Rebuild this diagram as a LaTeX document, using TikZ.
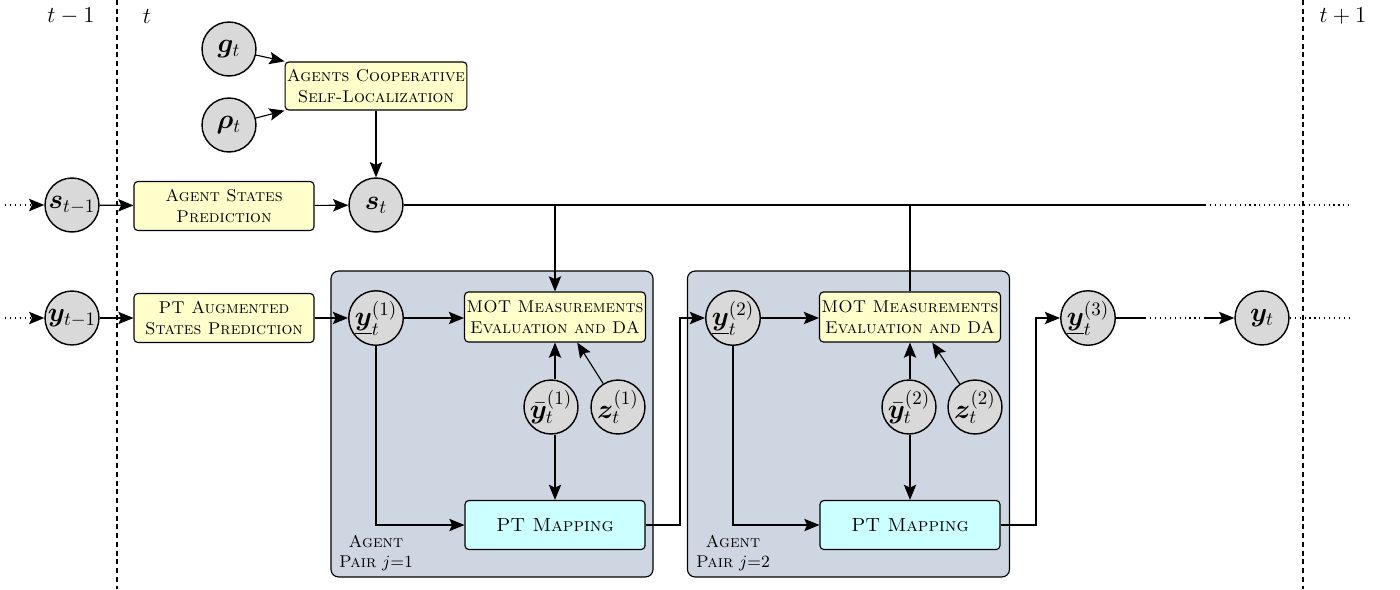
\documentclass[tikz,border=0pt]{standalone}
\usepackage{fontspec}
\usepackage{bm}
\usetikzlibrary{arrows.meta}
\definecolor{boxyellow}{HTML}{FFFFCC}
\definecolor{boxcyan}{HTML}{CCFFFF}
\definecolor{bgblue}{HTML}{CDD6E1}
\definecolor{circgray}{HTML}{D9D9D9}
\begin{document}
\begin{tikzpicture}[x=0.5263pt,y=-0.5263pt,
  var/.style={circle, draw, fill=circgray, line width=0.75pt, minimum size=28.4pt, inner sep=0pt, font=\Large},
  proc/.style={draw, rounded corners=2pt, fill=boxyellow, minimum width=94.7pt, minimum height=25.8pt, align=center, font=\small, inner sep=1pt, line width=0.6pt},
  mapbox/.style={proc, fill=boxcyan, font=\normalsize},
  pairbg/.style={draw, rounded corners=4pt, fill=bgblue, minimum width=169.5pt, minimum height=161pt, line width=0.6pt},
  pairlabel/.style={align=center, font=\small, inner sep=0pt},
  arr/.style={-{Stealth[length=8pt,width=6.5pt,inset=1.5pt]}, line width=0.6pt},
  plain/.style={line width=0.6pt},
  dots/.style={dotted, line width=0.6pt},
  timeline/.style={dash pattern=on 2.6pt off 2pt, line width=0.6pt},
  timelabel/.style={font=\fontsize{12.7}{15}\selectfont, inner sep=0pt}]
\useasboundingbox (0,0) rectangle (1400,589);

% background pairs
\node[pairbg] (pair1) at (492,424) {};
\node[pairbg] (pair2) at (848.5,424) {};
\node[pairlabel] (lab1) at (376,553) {\textsc{Agent}\\\textsc{Pair} $j{=}1$};
\node[pairlabel] (lab2) at (733,553) {\textsc{Agent}\\\textsc{Pair} $j{=}2$};

% time lines
\coordinate (tla) at (117,0); \coordinate (tlb) at (117,589);
\coordinate (tlc) at (1303,0); \coordinate (tld) at (1303,589);
\draw[timeline] (tla) -- (tlb);
\draw[timeline] (tlc) -- (tld);
\node[timelabel] (tm1) at (71,16) {$t-1$};
\node[timelabel] (tt) at (147,16) {$t$};
\node[timelabel] (tp1) at (1343,16) {$t+1$};

% nodes
\node[var] (g) at (229,49) {$\bm{g}_t$};
\node[var] (rho) at (229,125) {$\bm{\rho}_t$};
\node[proc, minimum height=25.3pt] (acs) at (376,86) {\textsc{Agents Cooperative}\\\textsc{Self-Localization}};

\node[var] (stm1) at (72,205) {$\bm{s}_{t-1}$};
\node[proc] (asp) at (224,206) {\textsc{Agent States}\\\textsc{Prediction}};
\node[var] (st) at (376,205) {$\bm{s}_t$};

\node[var] (ytm1) at (72,318) {$\bm{y}_{t-1}$};
\node[proc] (pta) at (224,318) {\textsc{PT Augmented}\\\textsc{States Prediction}};
\node[var] (y1) at (376,318) {$\underline{\bm{y}}_t^{(1)}$};
\node[proc, minimum height=26.3pt] (mot1) at (555,317) {\textsc{MOT Measurements}\\\textsc{Evaluation and DA}};
\node[var] (ybar1) at (551,407) {$\bar{\bm{y}}_t^{(1)}$};
\node[var] (z1) at (618,407) {$\bm{z}_t^{(1)}$};
\node[mapbox] (ptm1) at (555,525) {\textsc{PT Mapping}};

\node[var] (y2) at (733,318) {$\underline{\bm{y}}_t^{(2)}$};
\node[proc, minimum height=26.3pt] (mot2) at (910,317) {\textsc{MOT Measurements}\\\textsc{Evaluation and DA}};
\node[var] (ybar2) at (909,407) {$\bar{\bm{y}}_t^{(2)}$};
\node[var] (z2) at (975,407) {$\bm{z}_t^{(2)}$};
\node[mapbox] (ptm2) at (910,525) {\textsc{PT Mapping}};

\node[var] (y3) at (1088,318) {$\underline{\bm{y}}_t^{(3)}$};
\node[var] (yt) at (1262,318) {$\bm{y}_t$};

% top part
\draw[arr] (g) -- (acs.north west);
\draw[arr] (rho) -- (acs.south west);
\draw[arr] (acs) -- (st);

% s row
\coordinate (sIn) at (5,205);
\draw[dots, arr] (sIn) -- (stm1);
\draw[arr] (stm1) -- (asp);
\draw[arr] (asp) -- (st);
\coordinate (sEnd1) at (1205,205);
\coordinate (sEnd2) at (1350,205);
\draw[plain] (st) -- (sEnd1);
\draw[dots] (sEnd1) -- (sEnd2);
\draw[arr] (st -| mot1.north) -- (mot1.north);
\draw[plain] (st -| mot2.north) -- (mot2.north);

% y row
\coordinate (yIn) at (5,318);
\draw[dots, arr] (yIn) -- (ytm1);
\draw[arr] (ytm1) -- (pta);
\draw[arr] (pta) -- (y1);

% pair 1
\draw[arr] (y1) -- (y1 -| mot1.west);
\draw[arr] (ybar1.north -| mot1.south) -- (mot1.south);
\draw[arr] (z1) -- (mot1.-49);
\draw[arr] (ybar1.south -| ptm1.north) -- (ptm1.north);
\draw[arr] (y1) |- (ptm1);
\coordinate (k1) at (680,525);
\draw[arr] (ptm1) -- (k1) |- (y2);

% pair 2
\draw[arr] (y2) -- (y2 -| mot2.west);
\draw[arr] (ybar2.north -| mot2.south) -- (mot2.south);
\draw[arr] (z2) -- (mot2.-49);
\draw[arr] (ybar2.south -| ptm2.north) -- (ptm2.north);
\draw[arr] (y2) |- (ptm2);
\coordinate (k2) at (1036,525);
\draw[arr] (ptm2) -- (k2) |- (y3);

% output
\coordinate (d1) at (1145,318);
\coordinate (d2) at (1205,318);
\coordinate (yOut) at (1350,318);
\draw[plain] (y3) -- (d1);
\draw[dots] (d1) -- (d2);
\draw[arr] (d2) -- (yt);
\draw[dots] (yt) -- (yOut);
\end{tikzpicture}
\end{document}
